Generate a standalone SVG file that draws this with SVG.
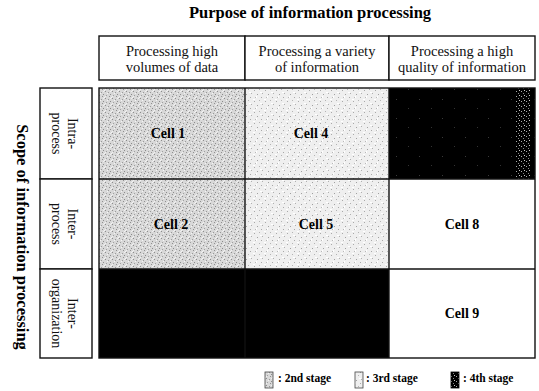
<svg xmlns="http://www.w3.org/2000/svg" width="539" height="391" viewBox="0 0 539 391">
  <style>
    .title { font-family: "Liberation Serif", "Times New Roman", serif; font-weight: bold; font-size: 16.5px; fill: #000; }
    .hdr { font-family: "Liberation Serif", "Times New Roman", serif; font-size: 14.5px; fill: #111; text-anchor: middle; }
    .rowlbl { font-family: "Liberation Serif", "Times New Roman", serif; font-size: 14px; fill: #111; text-anchor: middle; }
    .cell { font-family: "Liberation Serif", "Times New Roman", serif; font-weight: bold; font-size: 14px; fill: #000; text-anchor: middle; }
    .leg { font-family: "Liberation Serif", "Times New Roman", serif; font-weight: bold; font-size: 11.5px; fill: #000; }
    .box { fill: #fff; stroke: #111; stroke-width: 1.4; }
    .line { stroke: #111; stroke-width: 1.4; fill: none; }
  </style>
  <defs>
    <pattern id="p2" width="7" height="7" patternUnits="userSpaceOnUse">
      <rect width="7" height="7" fill="#d8d8d8"/>
      <rect x="0" y="0" width="1" height="1" fill="#8c8c8c"/>
      <rect x="3" y="1" width="1" height="1" fill="#9a9a9a"/>
      <rect x="5" y="3" width="1" height="1" fill="#8c8c8c"/>
      <rect x="1" y="4" width="1" height="1" fill="#a0a0a0"/>
      <rect x="4" y="5" width="1" height="1" fill="#909090"/>
      <rect x="2" y="2" width="1" height="1" fill="#f4f4f4"/>
      <rect x="6" y="6" width="1" height="1" fill="#f4f4f4"/>
      <rect x="5" y="0" width="1" height="1" fill="#f0f0f0"/>
      <rect x="0" y="5" width="1" height="1" fill="#f0f0f0"/>
    </pattern>
    <pattern id="p3" width="11" height="11" patternUnits="userSpaceOnUse">
      <rect width="11" height="11" fill="#efefef"/>
      <rect x="1" y="2" width="1" height="1" fill="#a8a8a8"/>
      <rect x="6" y="1" width="1" height="1" fill="#b4b4b4"/>
      <rect x="4" y="6" width="1" height="1" fill="#a0a0a0"/>
      <rect x="9" y="5" width="1" height="1" fill="#b0b0b0"/>
      <rect x="2" y="9" width="1" height="1" fill="#b8b8b8"/>
      <rect x="8" y="9" width="1" height="1" fill="#a8a8a8"/>
      <rect x="0" y="0" width="2" height="1" fill="#fff"/>
      <rect x="7" y="4" width="2" height="1" fill="#fff"/>
      <rect x="3" y="8" width="1" height="2" fill="#fff"/>
    </pattern>
    <pattern id="p4" width="23" height="19" patternUnits="userSpaceOnUse">
      <rect width="23" height="19" fill="#000"/>
      <rect x="5" y="4" width="1" height="1" fill="#3a3a3a"/>
      <rect x="17" y="13" width="1" height="1" fill="#333"/>
    </pattern>
    <pattern id="p4edge" width="5" height="5" patternUnits="userSpaceOnUse">
      <rect width="5" height="5" fill="#000"/>
      <rect x="1" y="1" width="1" height="1" fill="#aaa"/>
      <rect x="3" y="3" width="1" height="1" fill="#888"/>
      <rect x="4" y="0" width="1" height="1" fill="#ccc"/>
    </pattern>
  </defs>

  <rect width="539" height="391" fill="#fff"/>

  <!-- Titles -->
  <g id="title-top">
    <text class="title" x="310" y="18" text-anchor="middle">Purpose of information processing</text>
  </g>
  <g id="title-side">
    <text class="title" transform="translate(16.5,237) rotate(90)" text-anchor="middle">Scope of information processing</text>
  </g>

  <!-- Column headers -->
  <g id="header-1">
    <rect class="box" x="99" y="36" width="146" height="44"/>
    <text class="hdr" x="172" y="55.5">Processing high</text>
    <text class="hdr" x="172" y="71.5">volumes of data</text>
  </g>
  <g id="header-2">
    <rect class="box" x="245" y="36" width="144" height="44"/>
    <text class="hdr" x="317" y="55.5">Processing a variety</text>
    <text class="hdr" x="317" y="71.5">of information</text>
  </g>
  <g id="header-3">
    <rect class="box" x="389" y="36" width="146" height="44"/>
    <text class="hdr" x="462" y="55.5">Processing a high</text>
    <text class="hdr" x="462" y="71.5">quality of information</text>
  </g>

  <!-- Row headers -->
  <g id="row-1">
    <rect class="box" x="40" y="88" width="52" height="91"/>
    <text class="rowlbl" transform="translate(68,133.5) rotate(90)">Intra-</text>
    <text class="rowlbl" transform="translate(52,133.5) rotate(90)">process</text>
  </g>
  <g id="row-2">
    <rect class="box" x="40" y="179" width="52" height="90"/>
    <text class="rowlbl" transform="translate(68,224) rotate(90)">Inter-</text>
    <text class="rowlbl" transform="translate(52,224) rotate(90)">process</text>
  </g>
  <g id="row-3">
    <rect class="box" x="40" y="269" width="52" height="89"/>
    <text class="rowlbl" transform="translate(68,313.5) rotate(90)">Inter-</text>
    <text class="rowlbl" transform="translate(52,313.5) rotate(90)">organization</text>
  </g>

  <!-- Matrix cells -->
  <g id="cell-1">
    <rect x="99" y="88" width="146" height="91" fill="url(#p2)"/>
    <text class="cell" x="168" y="138">Cell 1</text>
  </g>
  <g id="cell-4">
    <rect x="245" y="88" width="144" height="91" fill="url(#p3)"/>
    <text class="cell" x="311" y="138">Cell 4</text>
  </g>
  <g id="cell-3">
    <rect x="389" y="88" width="146" height="91" fill="url(#p4)"/>
    <rect x="516" y="88" width="15" height="91" fill="url(#p4edge)"/>
  </g>
  <g id="cell-2">
    <rect x="99" y="179" width="146" height="90" fill="url(#p2)"/>
    <text class="cell" x="171" y="229">Cell 2</text>
  </g>
  <g id="cell-5">
    <rect x="245" y="179" width="144" height="90" fill="url(#p3)"/>
    <text class="cell" x="316" y="229">Cell 5</text>
  </g>
  <g id="cell-8">
    <rect x="389" y="179" width="146" height="90" fill="#fff"/>
    <text class="cell" x="462" y="229">Cell 8</text>
  </g>
  <g id="cell-7">
    <rect x="99" y="269" width="146" height="89" fill="#000"/>
  </g>
  <g id="cell-6">
    <rect x="245" y="269" width="144" height="89" fill="#000"/>
  </g>
  <g id="cell-9">
    <rect x="389" y="269" width="146" height="89" fill="#fff"/>
    <text class="cell" x="462" y="318">Cell 9</text>
  </g>

  <!-- Grid lines -->
  <g id="grid">
    <rect class="line" x="99" y="88" width="436" height="270"/>
    <line class="line" x1="245" y1="88" x2="245" y2="358"/>
    <line class="line" x1="389" y1="88" x2="389" y2="358"/>
    <line class="line" x1="99" y1="179" x2="535" y2="179"/>
    <line class="line" x1="99" y1="269" x2="535" y2="269"/>
  </g>

  <!-- Legend -->
  <g id="legend">
    <rect x="265" y="372" width="8" height="16" fill="url(#p2)" stroke="#444" stroke-width="0.8"/>
    <text class="leg" x="278" y="382">: 2nd stage</text>
    <rect x="355" y="372" width="8" height="16" fill="url(#p3)" stroke="#444" stroke-width="0.8"/>
    <text class="leg" x="366" y="382">: 3rd stage</text>
    <rect x="451" y="372" width="8" height="16" fill="url(#p4edge)" stroke="#000" stroke-width="0.8"/>
    <text class="leg" x="463" y="382">: 4th stage</text>
  </g>
</svg>
